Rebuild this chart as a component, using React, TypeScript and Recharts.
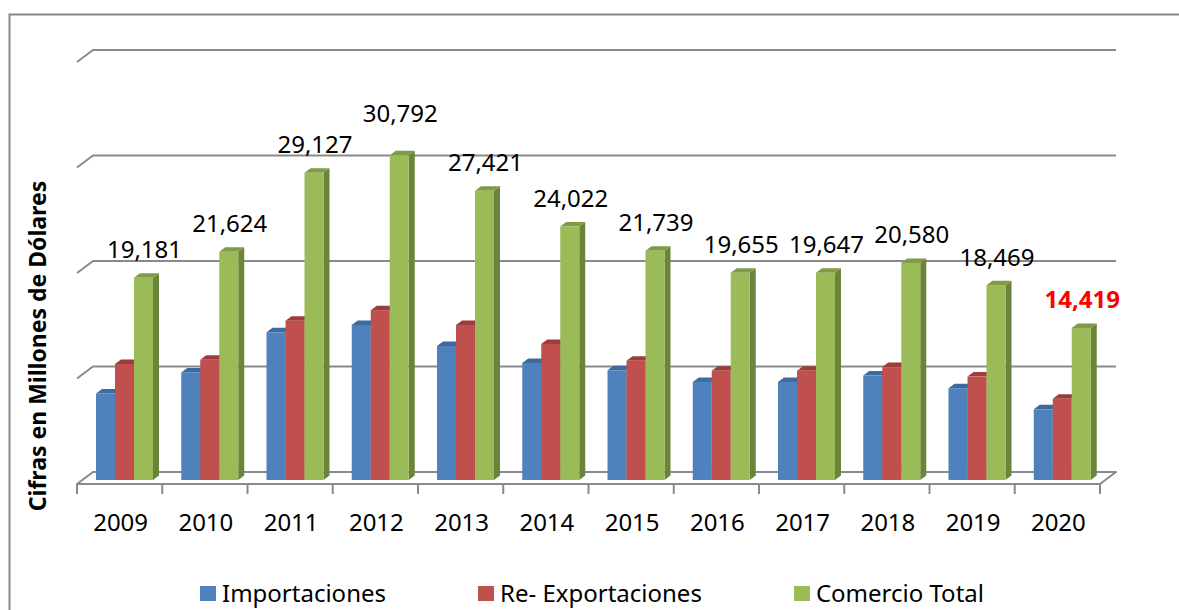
import React from "react";
import { BarChart, Bar, XAxis, YAxis, CartesianGrid, Legend, LabelList } from "recharts";

// Comercio exterior 2009-2020, millones de dólares
const YEARS = ["2009", "2010", "2011", "2012", "2013", "2014", "2015", "2016", "2017", "2018", "2019", "2020"];
const IMPORTACIONES = [8200, 10200, 14000, 14700, 12700, 11100, 10400, 9300, 9300, 9900, 8700, 6700];
const RE_EXPORTACIONES = [11000, 11400, 15100, 16100, 14700, 12900, 11300, 10350, 10350, 10700, 9800, 7700];
const COMERCIO_TOTAL = [19181, 21624, 29127, 30792, 27421, 24022, 21739, 19655, 19647, 20580, 18469, 14419];
const Y_TICKS = [0, 10000, 20000, 30000, 40000];

const FONT = "'Noto Sans', sans-serif";
const W = 1179;
const H = 610;
const MARGIN = { top: 58, right: 74, bottom: 100, left: 82 };
const X_AXIS_H = 30;
const PLOT_BOTTOM = H - MARGIN.bottom - X_AXIS_H;
const GRID = "#8a8a8a";

// depth offsets of the fake 3D: back wall and front edge relative to the bar plane
const BACK = { dx: 11, dy: -8 };
const FRONT = { dx: -5, dy: 4 };
const BAR_DEPTH = { dx: 6, dy: -4.5 };

const SERIES = [
  { key: "imp", name: "Importaciones", front: "#4F81BD", top: "#3E6A9E", side: "#385D8A" },
  { key: "reexp", name: "Re- Exportaciones", front: "#C0504D", top: "#9E3C39", side: "#8C3836" },
  { key: "total", name: "Comercio Total", front: "#9BBB59", top: "#7F9B45", side: "#6B843A" },
];

const rows = YEARS.map((year, i) => ({
  year,
  imp: IMPORTACIONES[i],
  reexp: RE_EXPORTACIONES[i],
  total: COMERCIO_TOTAL[i],
}));

// hand-placed label in the original sits higher above the 2012 column
const LABEL_LIFT: Record<string, number> = { "2012": 14 };

function Bar3D(props: any) {
  const { x, y, width, height, colors } = props;
  if (!height || height <= 0) return null;
  const { dx, dy } = BAR_DEPTH;
  const r = x + width;
  const b = y + height;
  return (
    <g>
      <polygon points={`${r},${y} ${r + dx},${y + dy} ${r + dx},${b + dy} ${r},${b}`} fill={colors.side} />
      <polygon points={`${x},${y} ${x + dx},${y + dy} ${r + dx},${y + dy} ${r},${y}`} fill={colors.top} />
      <rect x={x} y={y} width={width} height={height} fill={colors.front} />
    </g>
  );
}

function GridLine(props: any) {
  const { x1, x2, y1 } = props;
  if (Math.abs(y1 - PLOT_BOTTOM) < 1) {
    // floor of the 3D box plus the category tick marks on its front edge
    const fl = x1 + FRONT.dx;
    const fr = x2 + FRONT.dx;
    const fy = y1 + FRONT.dy;
    const step = (fr - fl) / YEARS.length;
    const ticks = [];
    for (let i = 0; i <= YEARS.length; i++) {
      const tx = fl + i * step;
      ticks.push(<line key={i} x1={tx} y1={fy} x2={tx} y2={fy + 10} stroke={GRID} strokeWidth={2} />);
    }
    return (
      <g>
        <polygon
          points={`${fl},${fy} ${x1 + BACK.dx},${y1 + BACK.dy} ${x2 + BACK.dx},${y1 + BACK.dy} ${fr},${fy}`}
          fill="#ffffff"
          stroke={GRID}
          strokeWidth={2}
          strokeLinejoin="round"
        />
        {ticks}
      </g>
    );
  }
  return (
    <polyline
      points={`${x1 + FRONT.dx},${y1 + FRONT.dy} ${x1 + BACK.dx},${y1 + BACK.dy} ${x2 + BACK.dx},${y1 + BACK.dy}`}
      fill="none"
      stroke={GRID}
      strokeWidth={2}
    />
  );
}

function YearTick(props: any) {
  const { x, y, payload } = props;
  return (
    <text x={x - 4} y={y + 41} textAnchor="middle" dominantBaseline="central" fontFamily={FONT} fontSize={24} fill="#000">
      {payload.value}
    </text>
  );
}

function NoTick() {
  return <g />;
}

function TotalLabel(props: any) {
  const vb = props.viewBox || {};
  const x = props.x ?? vb.x;
  const y = props.y ?? vb.y;
  const width = props.width ?? vb.width;
  const index = props.index ?? 0;
  const last = index === YEARS.length - 1;
  const lift = LABEL_LIFT[YEARS[index]] ?? 0;
  return (
    <text
      x={x + width / 2 + 1}
      y={y - 29 - lift}
      textAnchor="middle"
      dominantBaseline="central"
      fontFamily={FONT}
      fontSize={24}
      fontWeight={last ? 700 : 400}
      fill={last ? "#FF0000" : "#000"}
    >
      {Number(props.value).toLocaleString("en-US")}
    </text>
  );
}

function LegendContent() {
  return (
    <div style={{ display: "flex", alignItems: "center", gap: 92, paddingLeft: 200, fontFamily: FONT, fontSize: 24, color: "#000" }}>
      {SERIES.map((s) => (
        <div key={s.key} style={{ display: "flex", alignItems: "center", gap: 6 }}>
          <span style={{ display: "inline-block", width: 16, height: 15, background: s.front }} />
          <span style={{ lineHeight: "30px" }}>{s.name}</span>
        </div>
      ))}
    </div>
  );
}

export default function App() {
  return (
    <div style={{ position: "absolute", left: 0, top: 0, width: W, height: H, background: "#fff", overflow: "hidden" }}>
      {/* chart area border (runs off the right and bottom of the crop) and the axis title */}
      <svg width={W} height={H} style={{ position: "absolute", left: 0, top: 0 }}>
        <path d={`M 9.5 ${H} V 14.5 H ${W}`} fill="none" stroke="#898989" strokeWidth={2} />
        <text
          x={37}
          y={346}
          transform="rotate(-90, 37, 346)"
          textAnchor="middle"
          dominantBaseline="central"
          fontFamily={FONT}
          fontSize={23}
          fontWeight={700}
          fill="#000"
        >
          Cifras en Millones de Dólares
        </text>
      </svg>
      <div style={{ position: "absolute", left: 0, top: 0 }}>
        <BarChart width={W} height={H} data={rows} margin={MARGIN} barGap={0} barSize={19}>
          <CartesianGrid vertical={false} horizontal={(p: any) => <GridLine {...p} />} />
          <XAxis
            dataKey="year"
            height={X_AXIS_H}
            interval={0}
            axisLine={false}
            tickLine={false}
            tickSize={0}
            tickMargin={0}
            tick={<YearTick />}
          />
          <YAxis
            domain={[0, 40000]}
            ticks={Y_TICKS}
            interval={0}
            width={0}
            tick={<NoTick />}
            axisLine={false}
            tickLine={false}
          />
          <Legend
            layout="horizontal"
            verticalAlign="middle"
            align="center"
            content={<LegendContent />}
            wrapperStyle={{ left: 0, top: 578, width: W, height: 30 }}
          />
          {SERIES.map((s) => (
            <Bar
              key={s.key}
              dataKey={s.key}
              name={s.name}
              fill={s.front}
              isAnimationActive={false}
              shape={(p: any) => <Bar3D {...p} colors={s} />}
            >
              {s.key === "total" ? <LabelList dataKey="total" content={<TotalLabel />} /> : null}
            </Bar>
          ))}
        </BarChart>
      </div>
    </div>
  );
}
